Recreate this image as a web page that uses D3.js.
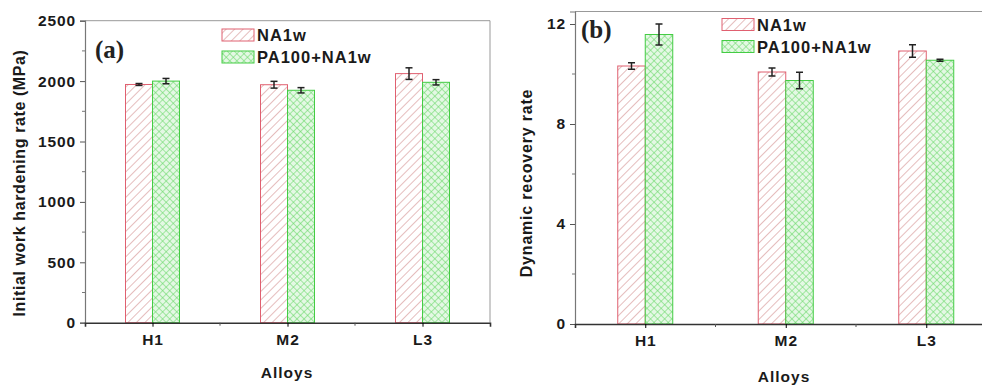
<!DOCTYPE html>
<html><head><meta charset="utf-8">
<script src="https://cdn.jsdelivr.net/npm/d3@7"></script>
<style>body{margin:0;background:#fff}svg{display:block}</style>
</head><body>
<svg id="c" width="982" height="385"></svg>
<script>
const categories = ["H1", "M2", "L3"];
const seriesNames = ["NA1w", "PA100+NA1w"];
// panel (a): initial work hardening rate (MPa)
const hardNA = [1972, 1970, 2062];
const hardNAErr = [8, 28, 48];
const hardPA = [2000, 1924, 1990];
const hardPAErr = [22, 22, 22];
// panel (b): dynamic recovery rate
const recNA = [10.32, 10.08, 10.92];
const recNAErr = [0.13, 0.16, 0.25];
const recPA = [11.58, 9.74, 10.55];
const recPAErr = [0.42, 0.33, 0.04];
const ticksA = [0, 500, 1000, 1500, 2000, 2500];
const ticksB = [0, 4, 8, 12];

const FONT = "Arial, Liberation Sans, sans-serif";
const svg = d3.select("#c");
const defs = svg.append("defs");
const ph = defs.append("pattern").attr("id","hatch").attr("patternUnits","userSpaceOnUse")
  .attr("width",6).attr("height",6).attr("patternTransform","rotate(45)");
ph.append("rect").attr("width",6).attr("height",6).attr("fill","#fff");
ph.append("line").attr("x1",0).attr("y1",0).attr("x2",0).attr("y2",6).attr("stroke","#d49090").attr("stroke-width",1.2);
const pc = defs.append("pattern").attr("id","cross").attr("patternUnits","userSpaceOnUse")
  .attr("width",5).attr("height",5).attr("patternTransform","rotate(45)");
pc.append("rect").attr("width",5).attr("height",5).attr("fill","#e4f8e4");
pc.append("line").attr("x1",0).attr("y1",0).attr("x2",0).attr("y2",5).attr("stroke","#66d866").attr("stroke-width",1.1);
pc.append("line").attr("x1",0).attr("y1",0).attr("x2",5).attr("y2",0).attr("stroke","#66d866").attr("stroke-width",1.1);

const fills = ["url(#hatch)","url(#cross)"];
const strokes = ["#e06070","#44cc44"];

function styleText(sel, size, ls){
  sel.attr("font-family",FONT).attr("font-weight","bold").attr("font-size",size)
     .attr("letter-spacing",ls).attr("fill","#1a1a1a");
}

function panel(o){
  const g = svg.append("g");
  const x = d3.scaleLinear().domain([0.5,3.5]).range([o.x0, o.x0 + 3*o.step]);
  const y = d3.scaleLinear().domain([0,o.ymax]).range([o.y0, o.ytop]);
  const bw = o.bw;
  g.append("line").attr("x1",o.x0).attr("x2",x(3.5)).attr("y1",o.ytop).attr("y2",o.ytop).attr("stroke","#999").attr("stroke-width",1);
  g.append("line").attr("x1",x(3.5)).attr("x2",x(3.5)).attr("y1",o.ytop).attr("y2",o.y0).attr("stroke","#999").attr("stroke-width",1);
  [o.s1,o.s2].forEach((vals,si)=>{
    const errs = si===0?o.e1:o.e2;
    categories.forEach((c,i)=>{
      const cx = x(i+1);
      const bx = si===0 ? cx-bw : cx;
      g.append("rect").attr("x",bx).attr("y",y(vals[i])).attr("width",bw).attr("height",o.y0-y(vals[i]))
        .attr("fill",fills[si]).attr("stroke",strokes[si]).attr("stroke-width",1);
      const ex = bx + bw/2;
      const t = y(vals[i]+errs[i]), b = y(vals[i]-errs[i]);
      g.append("line").attr("x1",ex).attr("x2",ex).attr("y1",t).attr("y2",b).attr("stroke","#222").attr("stroke-width",1.5);
      g.append("line").attr("x1",ex-3.5).attr("x2",ex+3.5).attr("y1",t).attr("y2",t).attr("stroke","#222").attr("stroke-width",1.5);
      g.append("line").attr("x1",ex-3.5).attr("x2",ex+3.5).attr("y1",b).attr("y2",b).attr("stroke","#222").attr("stroke-width",1.5);
    });
  });
  const ya = g.append("g").attr("transform",`translate(${o.x0},0)`)
    .call(d3.axisLeft(y).tickValues(o.ticks).tickSize(5).tickPadding(4).tickFormat(d3.format("d")));
  ya.select(".domain").attr("stroke","#777").attr("stroke-width",1.2);
  ya.selectAll(".tick line").attr("stroke","#555");
  styleText(ya.selectAll("text"), 15.5, 0.9);
  const minors = [];
  for(let i=0;i<o.ticks.length-1;i++) minors.push((o.ticks[i]+o.ticks[i+1])/2);
  g.selectAll(".my").data(minors).enter().append("line").attr("x1",o.x0-3).attr("x2",o.x0).attr("y1",d=>y(d)).attr("y2",d=>y(d)).attr("stroke","#777");
  const xa = g.append("g").attr("transform",`translate(0,${o.y0})`)
    .call(d3.axisBottom(x).tickValues([1,2,3]).tickSize(4).tickPadding(7).tickFormat((d,i)=>categories[i]));
  xa.select(".domain").attr("stroke","#333").attr("stroke-width",1.6);
  styleText(xa.selectAll("text"), 15.5, 0.9);
  g.selectAll(".mx").data([1.5,2.5]).enter().append("line").attr("x1",d=>x(d)).attr("x2",d=>x(d)).attr("y1",o.y0).attr("y2",o.y0+3).attr("stroke","#555");
  styleText(g.append("text").attr("x",o.xlabelX).attr("y",o.xlabelY).attr("text-anchor","middle").text("Alloys"), 15.5, 1);
  styleText(g.append("text").attr("transform",`translate(${o.ylabelX},${o.ylabelY}) rotate(-90)`).attr("text-anchor","middle").text(o.ylabel), 16, o.ylabelLS);
  g.append("text").attr("x",o.tagX).attr("y",o.tagY).attr("font-family","Liberation Serif, Times New Roman, serif")
    .attr("font-weight","bold").attr("font-size",25).attr("fill","#222").text(o.tag);
  seriesNames.forEach((n,i)=>{
    const ly = o.legY + i*22;
    g.append("rect").attr("x",o.legX).attr("y",ly).attr("width",32).attr("height",12)
      .attr("fill",fills[i]).attr("stroke",strokes[i]).attr("stroke-width",1);
    styleText(g.append("text").attr("x",o.legX+35).attr("y",ly+12).text(n), 16.5, 1);
  });
}

panel({x0:85, step:135, y0:322.7, ytop:20.7, ymax:2500, ticks:ticksA, bw:27,
  s1:hardNA, e1:hardNAErr, s2:hardPA, e2:hardPAErr,
  xlabelX:287, xlabelY:378, ylabelX:25, ylabelY:183, ylabel:"Initial work hardening rate (MPa)", ylabelLS:0.6,
  tag:"(a)", tagX:95, tagY:58, legX:222, legY:29});

panel({x0:575, step:140.5, y0:324, ytop:11.5, ymax:12.5, ticks:ticksB, bw:27.5,
  s1:recNA, e1:recNAErr, s2:recPA, e2:recPAErr,
  xlabelX:784, xlabelY:382, ylabelX:532, ylabelY:183, ylabel:"Dynamic recovery rate", ylabelLS:0.8,
  tag:"(b)", tagX:581, tagY:38, legX:722, legY:18.5});
</script>
</body></html>
